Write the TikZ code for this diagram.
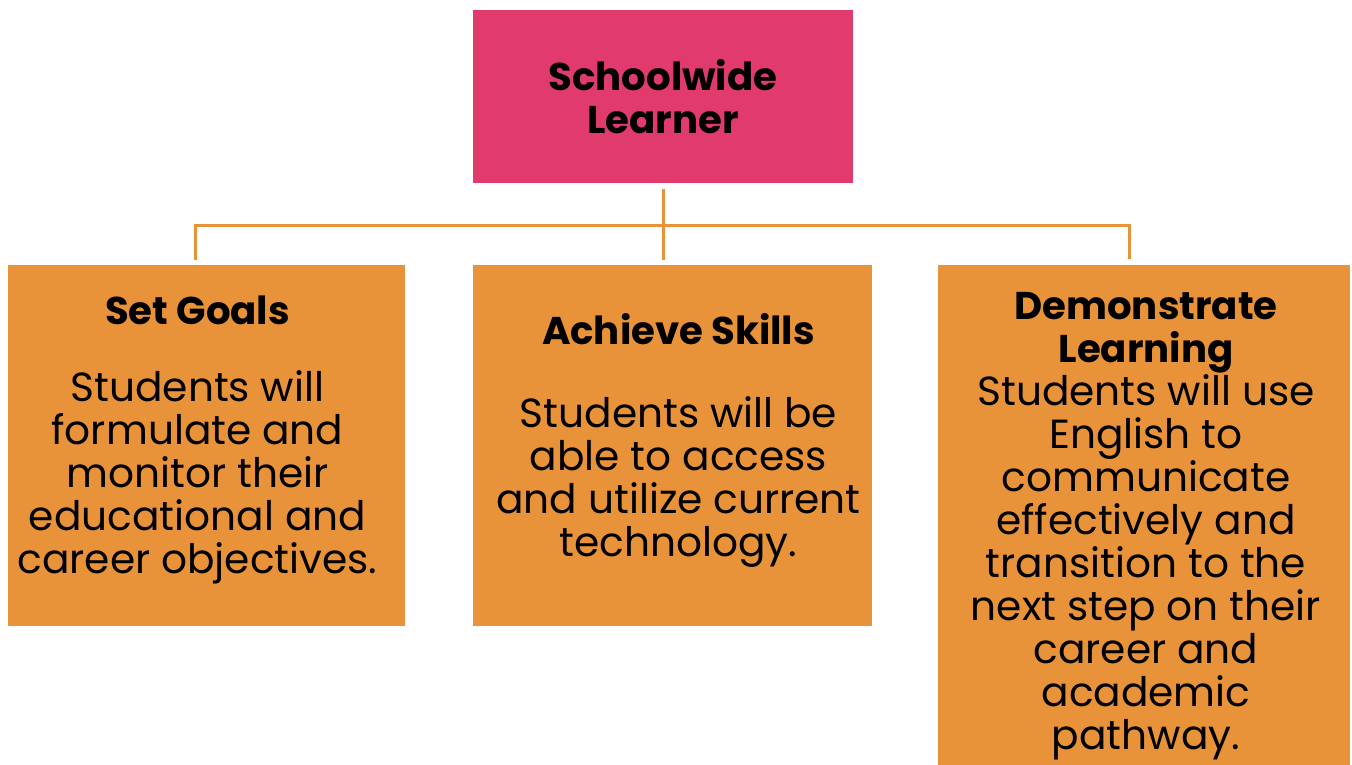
\documentclass[tikz,border=0pt]{standalone}
\usepackage{fontspec}
\setmainfont{Poppins}
\definecolor{slpink}{HTML}{E13B6D}
\definecolor{slorange}{HTML}{E8923A}
\newcommand{\cardtitle}[1]{{\fontsize{29}{32.25}\selectfont\bfseries #1}}

\begin{document}
\begin{tikzpicture}[x=0.75pt,y=-0.75pt,
    card/.style={fill=slorange, inner sep=0pt},
    cardtext/.style={inner sep=0pt, align=center,
      font=\fontsize{30.5}{32.25}\selectfont},
    link/.style={draw=slorange, line width=2.25pt}]
  \useasboundingbox (0,0) rectangle (1352,764);
  \clip (0,0) rectangle (1352,764);

  \node[card, fill=slpink, minimum width=285pt, minimum height=129.75pt] (top) at (663,96.5) {};
  \node[card, minimum width=297.75pt, minimum height=270.75pt] (goals) at (206.5,445.5) {};
  \node[card, minimum width=299.25pt, minimum height=270.75pt] (skills) at (672.5,445.5) {};
  \node[card, minimum width=309pt, minimum height=386.25pt] (learn) at (1144,522) {};

  \node[cardtext] (toptext) at (663,96.5) {\cardtitle{Schoolwide}\\\cardtitle{Learner}};
  \node[cardtext] (goalstext) at (197.5,440)
    {\cardtitle{Set Goals}\\[26pt]
     Students will\\formulate and\\monitor their\\educational and\\career objectives.};
  \node[cardtext] (skillstext) at (678.5,440.5)
    {\cardtitle{Achieve Skills}\\[30pt]
     Students will be\\able to access\\and utilize current\\technology.};
  \node[cardtext] (learntext) at (1146,526.5)
    {\cardtitle{Demonstrate}\\\cardtitle{Learning}\\
     Students will use\\English to\\communicate\\effectively and\\transition to the\\next step on their\\career and\\academic\\pathway.};

  % tree connectors
  \coordinate (bar) at (663,225);
  \draw[link] ([yshift=-4.5pt]top.south) -- ([yshift=3.75pt]top.south |- skills.north);
  \draw[link] ([xshift=-8.25pt,yshift=3.75pt]goals.north) |- (bar)
    -| ([xshift=-11.25pt,yshift=3.75pt]learn.north);
\end{tikzpicture}
\end{document}
